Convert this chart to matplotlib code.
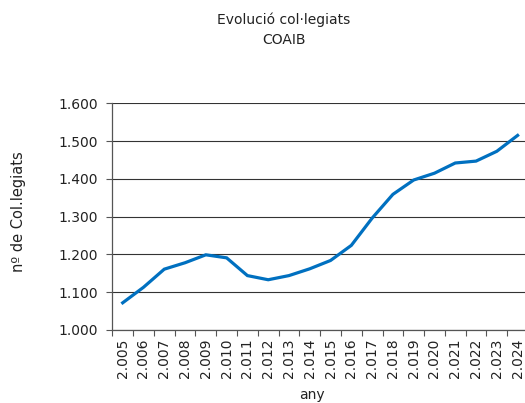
import matplotlib
matplotlib.use("Agg")
import matplotlib.pyplot as plt
from matplotlib.ticker import FixedLocator, FuncFormatter

years = ["2.005", "2.006", "2.007", "2.008", "2.009", "2.010", "2.011", "2.012", "2.013", "2.014",
         "2.015", "2.016", "2.017", "2.018", "2.019", "2.020", "2.021", "2.022", "2.023", "2.024"]
colegiats = [1072, 1113, 1161, 1178, 1199, 1191, 1144, 1133, 1144, 1162,
             1184, 1224, 1296, 1359, 1397, 1415, 1442, 1447, 1473, 1515]
yticks = [1000, 1100, 1200, 1300, 1400, 1500, 1600]

plt.rcParams['font.family'] = ['DejaVu Sans']
fig = plt.figure(figsize=(5.25, 4.03), dpi=100)
ax = fig.add_axes([112.3/525, 1-330/403, (528-112.3)/525, (330-103.3)/403])

x = list(range(len(years)))
ax.plot(x, colegiats, color='#0070C0', linewidth=2.3, solid_joinstyle='miter', zorder=3)

ax.set_xlim(-0.5, len(years)-0.5)
ax.set_ylim(1000, 1600)
ax.set_yticks(yticks)
ax.yaxis.set_major_formatter(FuncFormatter(lambda v, p: f"{int(v)//1000}.{int(v)%1000:03d}"))
ax.grid(axis='y', color='#333333', linewidth=0.8)
ax.set_axisbelow(True)

ax.set_xticks(x)
ax.set_xticklabels(years, rotation=90, fontsize=10, color='#222222')
ax.tick_params(axis='x', which='major', length=0, pad=6)
ax.xaxis.set_minor_locator(FixedLocator([i - 0.5 for i in range(len(years)+1)]))
ax.tick_params(axis='x', which='minor', length=4, color='#555555', width=0.8)
ax.tick_params(axis='y', length=4, color='#555555', width=0.8, labelsize=10, labelcolor='#222222', pad=6)

for s in ['top', 'right']:
    ax.spines[s].set_visible(False)
for s in ['left', 'bottom']:
    ax.spines[s].set_color('#555555')
    ax.spines[s].set_linewidth(0.9)

fig.text(284/525, 1-20/403, "Evolució col·legiats", ha='center', va='center', fontsize=10, color='#222222')
fig.text(284/525, 1-40/403, "COAIB", ha='center', va='center', fontsize=10, color='#222222')
fig.text(19/525, 1-212/403, "nº de Col.legiats", rotation=90, ha='center', va='center', fontsize=10.5, color='#222222')
fig.text(312/525, 1-395/403, "any", ha='center', va='center', fontsize=10, color='#222222')

fig.savefig("out.png", dpi=100)
